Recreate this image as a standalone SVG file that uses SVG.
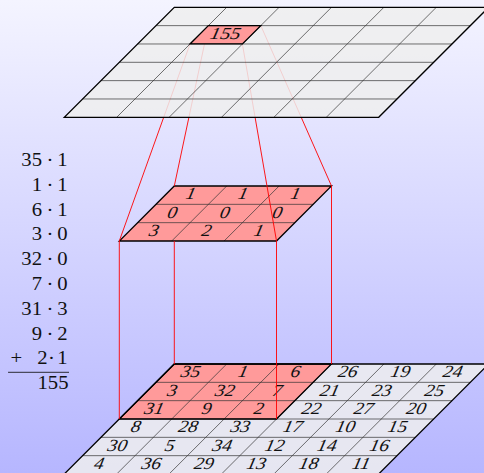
<svg xmlns="http://www.w3.org/2000/svg" width="484" height="473" viewBox="0 0 484 473">
<defs>
<linearGradient id="bg" x1="0" y1="0" x2="0" y2="1">
<stop offset="0" stop-color="#f4f4ff"/>
<stop offset="1" stop-color="#b6b6ff"/>
</linearGradient>
</defs>
<style>
.fill{fill:#eeeeee;fill-opacity:0.85}
.red{fill:#ff9a9a}
.inner{stroke:#333;stroke-width:0.7;fill:none;vector-effect:non-scaling-stroke}
.outer{stroke:#000;stroke-width:1.3;fill:none;vector-effect:non-scaling-stroke}
.n{font-family:"Liberation Serif",serif;font-style:italic;font-size:17px;text-anchor:middle;fill:#111}
.t{font-family:"Liberation Serif",serif;font-size:18px;fill:#111}
.e{text-anchor:end}
.m{text-anchor:middle}
.con{stroke:#ff0000;stroke-width:0.9;fill:none}
</style>
<rect width="484" height="473" fill="url(#bg)"/>

<g id="input">
<g transform="translate(174.3,364) skewX(-45)">
<rect class="fill" x="0" y="0" width="314.4" height="110"/>
<rect class="red" x="0" y="0" width="157.2" height="55"/>
<path class="inner" d="M52.4 0V110M104.8 0V110M157.2 0V110M209.6 0V110M262 0V110M0 18.33H314.4M0 36.67H314.4M0 55H314.4M0 73.33H314.4M0 91.67H314.4"/>
<rect class="outer" x="0" y="0" width="157.2" height="55"/>
<rect class="outer" x="0" y="0" width="314.4" height="110"/>
</g>
<g transform="translate(-1.5,0)">
<text class="n" transform="translate(191.3,377.2) skewX(-12) scale(1.15,1)">35</text>
<text class="n" transform="translate(243.7,377.2) skewX(-12) scale(1.15,1)">1</text>
<text class="n" transform="translate(296.1,377.2) skewX(-12) scale(1.15,1)">6</text>
<text class="n" transform="translate(348.5,377.2) skewX(-12) scale(1.15,1)">26</text>
<text class="n" transform="translate(400.9,377.2) skewX(-12) scale(1.15,1)">19</text>
<text class="n" transform="translate(453.3,377.2) skewX(-12) scale(1.15,1)">24</text>
<text class="n" transform="translate(173.0,395.5) skewX(-12) scale(1.15,1)">3</text>
<text class="n" transform="translate(225.4,395.5) skewX(-12) scale(1.15,1)">32</text>
<text class="n" transform="translate(277.8,395.5) skewX(-12) scale(1.15,1)">7</text>
<text class="n" transform="translate(330.2,395.5) skewX(-12) scale(1.15,1)">21</text>
<text class="n" transform="translate(382.6,395.5) skewX(-12) scale(1.15,1)">23</text>
<text class="n" transform="translate(435.0,395.5) skewX(-12) scale(1.15,1)">25</text>
<text class="n" transform="translate(154.7,413.8) skewX(-12) scale(1.15,1)">31</text>
<text class="n" transform="translate(207.1,413.8) skewX(-12) scale(1.15,1)">9</text>
<text class="n" transform="translate(259.5,413.8) skewX(-12) scale(1.15,1)">2</text>
<text class="n" transform="translate(311.9,413.8) skewX(-12) scale(1.15,1)">22</text>
<text class="n" transform="translate(364.3,413.8) skewX(-12) scale(1.15,1)">27</text>
<text class="n" transform="translate(416.7,413.8) skewX(-12) scale(1.15,1)">20</text>
<text class="n" transform="translate(136.3,432.2) skewX(-12) scale(1.15,1)">8</text>
<text class="n" transform="translate(188.7,432.2) skewX(-12) scale(1.15,1)">28</text>
<text class="n" transform="translate(241.1,432.2) skewX(-12) scale(1.15,1)">33</text>
<text class="n" transform="translate(293.5,432.2) skewX(-12) scale(1.15,1)">17</text>
<text class="n" transform="translate(345.9,432.2) skewX(-12) scale(1.15,1)">10</text>
<text class="n" transform="translate(398.3,432.2) skewX(-12) scale(1.15,1)">15</text>
<text class="n" transform="translate(118.0,450.5) skewX(-12) scale(1.15,1)">30</text>
<text class="n" transform="translate(170.4,450.5) skewX(-12) scale(1.15,1)">5</text>
<text class="n" transform="translate(222.8,450.5) skewX(-12) scale(1.15,1)">34</text>
<text class="n" transform="translate(275.2,450.5) skewX(-12) scale(1.15,1)">12</text>
<text class="n" transform="translate(327.6,450.5) skewX(-12) scale(1.15,1)">14</text>
<text class="n" transform="translate(380.0,450.5) skewX(-12) scale(1.15,1)">16</text>
<text class="n" transform="translate(99.7,468.8) skewX(-12) scale(1.15,1)">4</text>
<text class="n" transform="translate(152.1,468.8) skewX(-12) scale(1.15,1)">36</text>
<text class="n" transform="translate(204.5,468.8) skewX(-12) scale(1.15,1)">29</text>
<text class="n" transform="translate(256.9,468.8) skewX(-12) scale(1.15,1)">13</text>
<text class="n" transform="translate(309.3,468.8) skewX(-12) scale(1.15,1)">18</text>
<text class="n" transform="translate(361.7,468.8) skewX(-12) scale(1.15,1)">11</text>
</g>
</g>

<g id="kernel">
<g transform="translate(174.3,186) skewX(-45)">
<rect class="red" x="0" y="0" width="157.2" height="55"/>
<path class="inner" d="M52.4 0V55M104.8 0V55M0 18.33H157.2M0 36.67H157.2"/>
<rect class="outer" x="0" y="0" width="157.2" height="55"/>
</g>
<g transform="translate(-1.5,0)">
<text class="n" transform="translate(191.3,199.2) skewX(-12) scale(1.15,1)">1</text>
<text class="n" transform="translate(243.7,199.2) skewX(-12) scale(1.15,1)">1</text>
<text class="n" transform="translate(296.1,199.2) skewX(-12) scale(1.15,1)">1</text>
<text class="n" transform="translate(173.0,217.5) skewX(-12) scale(1.15,1)">0</text>
<text class="n" transform="translate(225.4,217.5) skewX(-12) scale(1.15,1)">0</text>
<text class="n" transform="translate(277.8,217.5) skewX(-12) scale(1.15,1)">0</text>
<text class="n" transform="translate(154.7,235.8) skewX(-12) scale(1.15,1)">3</text>
<text class="n" transform="translate(207.1,235.8) skewX(-12) scale(1.15,1)">2</text>
<text class="n" transform="translate(259.5,235.8) skewX(-12) scale(1.15,1)">1</text>
</g>
</g>

<g id="connectors">
<path class="con" d="M119.3 241L190 44M174.3 186L208.4 25.6M276.5 241L242.4 44M331.5 186L260.8 25.6"/>
<path class="con" d="M119.3 241V419M174.3 241V364M276.5 241V419M331.5 186V364"/>
</g>

<g id="output">
<g transform="translate(174.3,7.3) skewX(-45)">
<rect class="fill" x="0" y="0" width="314.4" height="110"/>
<rect class="red" x="52.4" y="18.33" width="52.4" height="18.33"/>
<path class="inner" d="M52.4 0V110M104.8 0V110M157.2 0V110M209.6 0V110M262 0V110M0 18.33H314.4M0 36.67H314.4M0 55H314.4M0 73.33H314.4M0 91.67H314.4"/>
<rect class="outer" x="52.4" y="18.33" width="52.4" height="18.33"/>
<rect class="outer" x="0" y="0" width="314.4" height="110"/>
</g>
<text class="n" transform="translate(224.5,39.2) skewX(-12) scale(1.2,1)">155</text>
</g>

<g id="sum" transform="scale(1.15,1)">
<text class="t e" x="36.5" y="166">35</text><text class="t m" x="43.5" y="166">·</text><text class="t m" x="54.2" y="166">1</text>
<text class="t e" x="36.5" y="190.8">1</text><text class="t m" x="43.5" y="190.8">·</text><text class="t m" x="54.2" y="190.8">1</text>
<text class="t e" x="36.5" y="215.6">6</text><text class="t m" x="43.5" y="215.6">·</text><text class="t m" x="54.2" y="215.6">1</text>
<text class="t e" x="36.5" y="240.4">3</text><text class="t m" x="43.5" y="240.4">·</text><text class="t m" x="54.2" y="240.4">0</text>
<text class="t e" x="36.5" y="265.2">32</text><text class="t m" x="43.5" y="265.2">·</text><text class="t m" x="54.2" y="265.2">0</text>
<text class="t e" x="36.5" y="290">7</text><text class="t m" x="43.5" y="290">·</text><text class="t m" x="54.2" y="290">0</text>
<text class="t e" x="36.5" y="314.8">31</text><text class="t m" x="43.5" y="314.8">·</text><text class="t m" x="54.2" y="314.8">3</text>
<text class="t e" x="36.5" y="339.6">9</text><text class="t m" x="43.5" y="339.6">·</text><text class="t m" x="54.2" y="339.6">2</text>
<text class="t m" x="14.3" y="364.4">+</text>
<text class="t e" x="41.3" y="364.4">2</text><text class="t m" x="44.8" y="364.4">·</text><text class="t m" x="54.2" y="364.4">1</text>
<line x1="7" y1="372.3" x2="60" y2="372.3" stroke="#111" stroke-width="0.8"/>
<text class="t e" x="59.6" y="389.5">155</text>
</g>
</svg>
